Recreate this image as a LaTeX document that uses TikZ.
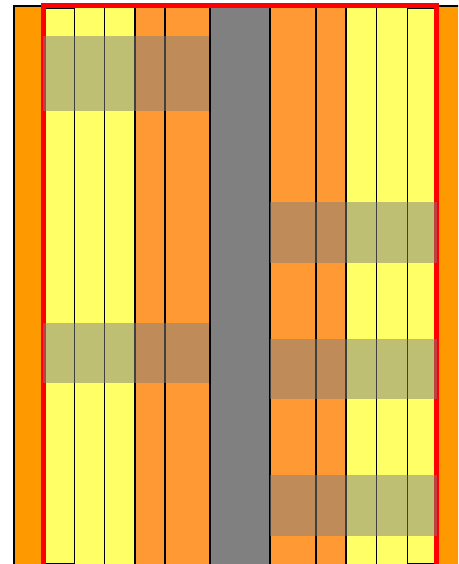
\documentclass[tikz,border=0pt]{standalone}
\usetikzlibrary{positioning}
\definecolor{outerorange}{HTML}{FF9900}
\definecolor{colorange}{HTML}{FF9933}
\definecolor{colyellow}{HTML}{FFFF66}
\definecolor{colgray}{HTML}{808080}
\begin{document}
\begin{tikzpicture}[x=1pt,y=-1pt,
  colbox/.style={draw=black,line width=0.8pt},
  thickbox/.style={draw=black,line width=1.4pt},
  shade/.style={fill=colgray,fill opacity=0.5,draw=none}]
\useasboundingbox (0,0) rectangle (458,564);
\clip (0,0) rectangle (458,564);
% outer orange
\fill[outerorange] (14,6) rectangle (462,568);
\draw[black,line width=1.2pt] (14,568) -- (14,6) -- (462,6);
% columns
\draw[colbox,fill=colyellow] (45,8) rectangle (74,563);
\draw[colbox,fill=colyellow] (74,6) rectangle (104,568);
\draw[colbox,fill=colyellow] (104,6) rectangle (135,568);
\draw[thickbox,fill=colorange] (135,6) rectangle (165,568);
\draw[thickbox,fill=colorange] (165,6) rectangle (210,568);
\draw[thickbox,fill=colgray] (210,6) rectangle (270,568);
\draw[thickbox,fill=colorange] (270,6) rectangle (316,568);
\draw[thickbox,fill=colorange] (316,6) rectangle (346,568);
\draw[colbox,fill=colyellow] (346,6) rectangle (376,568);
\draw[colbox,fill=colyellow] (376,6) rectangle (407,568);
\draw[colbox,fill=colyellow] (407,8) rectangle (435,563);
% red frame
\draw[red,line width=4.5pt] (43.5,568) -- (43.5,5.5) -- (436.5,5.5) -- (436.5,568);
\draw[red,line width=1pt] (45,564) -- (74,564);
\draw[red,line width=1pt] (407,564) -- (435,564);
% shaded bands
\fill[shade] (43,36) rectangle (209,111);
\fill[shade] (43,323) rectangle (209,383);
\fill[shade] (270,202) rectangle (437,263);
\fill[shade] (270,339) rectangle (437,399);
\fill[shade] (270,475) rectangle (437,536);
\end{tikzpicture}
\end{document}
